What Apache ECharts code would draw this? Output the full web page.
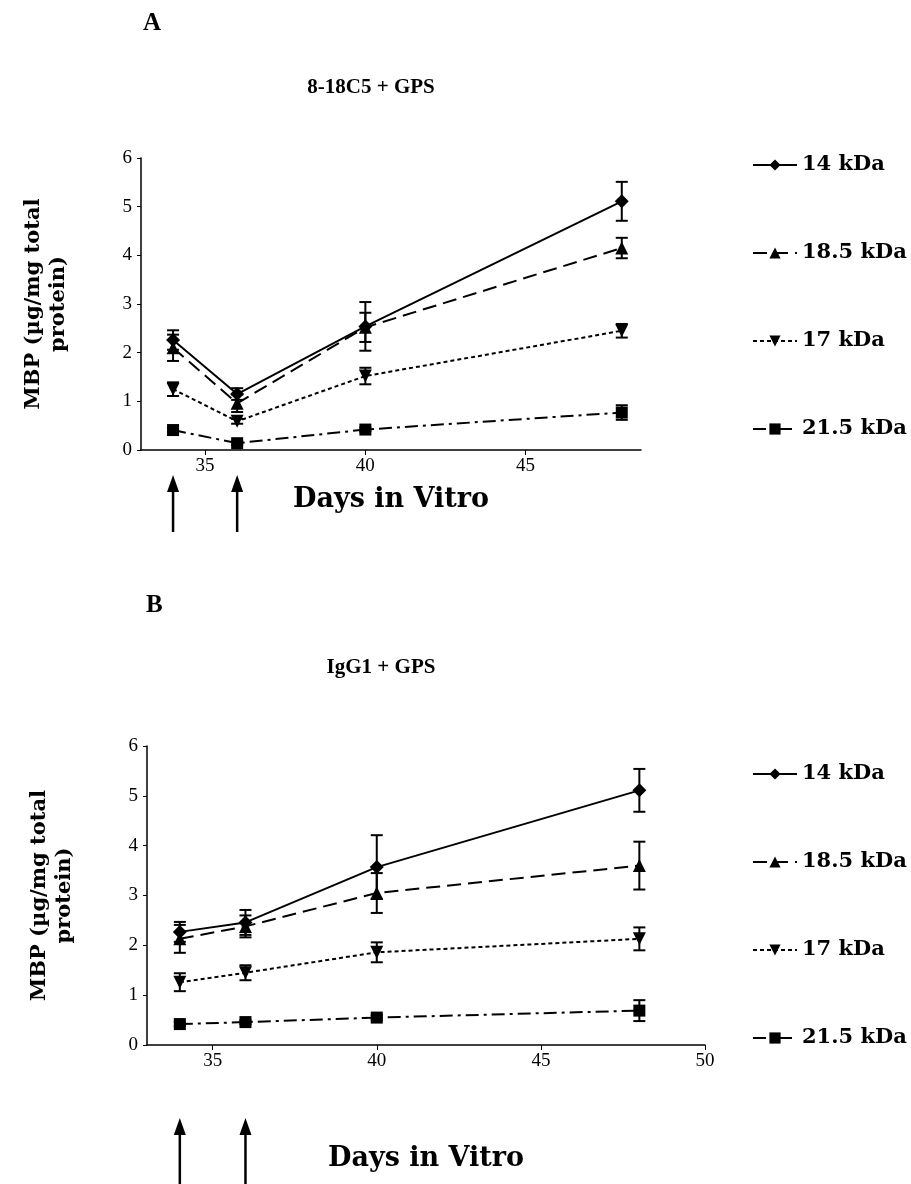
<!DOCTYPE html>
<html><head><meta charset="utf-8">
<script src="https://cdn.jsdelivr.net/npm/echarts@6/dist/echarts.min.js"></script>
<style>html,body{margin:0;padding:0;background:#fff}#c{width:911px;height:1184px}</style>
</head><body><div id="c"></div>
<script>
// ---- data ----
const days = [34, 36, 40, 48];
const seriesNames = ['14 kDa', '18.5 kDa', '17 kDa', '21.5 kDa'];
const arrowDays = [34, 36];
const xTicksA = [35, 40, 45];
const xTicksB = [35, 40, 45, 50];

// Panel A: 8-18C5 + GPS
const a14 = [2.26, 1.15, 2.54, 5.11];
const a14Err = [0.20, 0.12, 0.50, 0.40];
const a185 = [2.10, 0.96, 2.52, 4.15];
const a185Err = [0.27, 0.18, 0.30, 0.21];
const a17 = [1.25, 0.59, 1.52, 2.45];
const a17Err = [0.14, 0.05, 0.17, 0.14];
const a215 = [0.41, 0.14, 0.42, 0.77];
const a215Err = [0.04, 0.04, 0.04, 0.15];

// Panel B: IgG1 + GPS
const b14 = [2.27, 2.46, 3.57, 5.11];
const b14Err = [0.20, 0.25, 0.64, 0.43];
const b185 = [2.13, 2.38, 3.05, 3.60];
const b185Err = [0.28, 0.22, 0.40, 0.48];
const b17 = [1.26, 1.45, 1.86, 2.13];
const b17Err = [0.18, 0.15, 0.20, 0.23];
const b215 = [0.42, 0.46, 0.55, 0.69];
const b215Err = [0.04, 0.04, 0.05, 0.21];

const SERIF = '"Liberation Serif", "DejaVu Serif", serif';
const WIDE = '"DejaVu Serif", "Liberation Serif", serif';
const styles = [
  {symbol: 'diamond', size: 14, rot: 0, type: 'solid'},
  {symbol: 'triangle', size: 13, rot: 0, type: [14, 7]},
  {symbol: 'triangle', size: 13, rot: 180, type: [4, 3]},
  {symbol: 'rect', size: 12, rot: 0, type: [13, 5, 3, 5]}
];

function lineSeries(name, vals, idx, styleIdx) {
  const s = styles[styleIdx];
  return {
    name: name, type: 'line', xAxisIndex: idx, yAxisIndex: idx,
    data: days.map((d, i) => [d, vals[i]]),
    symbol: s.symbol, symbolSize: s.size, symbolRotate: s.rot,
    itemStyle: {color: '#000'},
    lineStyle: {color: '#000', width: 2, type: s.type},
    z: 3, animation: false
  };
}
function errSeries(vals, errs, idx) {
  return {
    type: 'custom', xAxisIndex: idx, yAxisIndex: idx, silent: true,
    data: days.map((d, i) => [d, vals[i], errs[i]]),
    renderItem: function (params, api) {
      const x = api.value(0), y = api.value(1), e = api.value(2);
      const top = api.coord([x, y + e]);
      const bot = api.coord([x, y - e]);
      const w = 6;
      const st = {stroke: '#000', lineWidth: 2};
      return {type: 'group', children: [
        {type: 'line', shape: {x1: top[0], y1: top[1], x2: bot[0], y2: bot[1]}, style: st},
        {type: 'line', shape: {x1: top[0] - w, y1: top[1], x2: top[0] + w, y2: top[1]}, style: st},
        {type: 'line', shape: {x1: bot[0] - w, y1: bot[1], x2: bot[0] + w, y2: bot[1]}, style: st}
      ]};
    },
    z: 2, animation: false
  };
}
function arrowSeries(idx, off1, off2) {
  return {
    type: 'custom', xAxisIndex: idx, yAxisIndex: idx, silent: true, clip: false,
    data: arrowDays.map(d => [d, 0]),
    renderItem: function (params, api) {
      const p = api.coord([api.value(0), 0]);
      const y1 = p[1] + off1, y2 = p[1] + off2;
      return {type: 'group', children: [
        {type: 'line', shape: {x1: p[0], y1: y1 + 10, x2: p[0], y2: y2}, style: {stroke: '#000', lineWidth: 2.5}},
        {type: 'polygon', shape: {points: [[p[0], y1], [p[0] - 6, y1 + 17], [p[0] + 6, y1 + 17]]}, style: {fill: '#000'}}
      ]};
    },
    animation: false
  };
}

const grids = [
  {left: 141, top: 158, width: 500, height: 292},
  {left: 147, top: 746, width: 558, height: 299}
];
function xAxis(idx, max, ticks, gap) {
  return {
    type: 'value', gridIndex: idx, min: 33, max: max,
    name: 'Days in Vitro', nameLocation: 'middle', nameGap: gap,
    nameTextStyle: {fontFamily: WIDE, fontWeight: 'bold', fontSize: 27, color: '#000'},
    axisLine: {onZero: false, lineStyle: {color: '#000', width: 1.5}},
    axisTick: {show: true, customValues: ticks, length: 5, inside: false, lineStyle: {color: '#000'}},
    axisLabel: {customValues: ticks, fontFamily: SERIF, fontSize: 19, color: '#000', margin: 7},
    splitLine: {show: false}
  };
}
function yAxis(idx) {
  return {
    type: 'value', gridIndex: idx, min: 0, max: 6, interval: 1,
    name: 'MBP (\u00b5g/mg total\nprotein)', nameLocation: 'middle', nameGap: 70, nameRotate: 90,
    nameTextStyle: {fontFamily: WIDE, fontWeight: 'bold', fontSize: 21, color: '#000', lineHeight: 25},
    axisLine: {show: true, lineStyle: {color: '#000', width: 1.5}},
    axisTick: {show: true, length: 4, lineStyle: {color: '#000'}},
    axisLabel: {fontFamily: SERIF, fontSize: 19, color: '#000', margin: 9, formatter: v => String(v)},
    splitLine: {show: false}
  };
}
function legend(top) {
  return {
    orient: 'vertical', left: 747, top: top, itemGap: 64,
    itemWidth: 44, itemHeight: 14,
    data: seriesNames.map(n => ({name: n})),
    textStyle: {fontFamily: WIDE, fontWeight: 'bold', fontSize: 21, color: '#000', lineHeight: 24},
    selectedMode: false
  };
}

const series = [];
const A = [[a14, a14Err], [a185, a185Err], [a17, a17Err], [a215, a215Err]];
const B = [[b14, b14Err], [b185, b185Err], [b17, b17Err], [b215, b215Err]];
A.forEach(v => series.push(errSeries(v[0], v[1], 0)));
A.forEach((v, k) => series.push(lineSeries(seriesNames[k], v[0], 0, k)));
B.forEach(v => series.push(errSeries(v[0], v[1], 1)));
B.forEach((v, k) => series.push(lineSeries(seriesNames[k], v[0], 1, k)));
series.push(arrowSeries(0, 25, 82));
series.push(arrowSeries(1, 73, 139));

const chart = echarts.init(document.getElementById('c'), null, {renderer: 'canvas'});
chart.setOption({
  backgroundColor: '#fff',
  animation: false,
  title: [
    {text: 'A', left: 138, top: 6, textStyle: {fontFamily: SERIF, fontWeight: 'bold', fontSize: 25, color: '#000'}},
    {text: '8-18C5 + GPS', left: 366, top: 72, textAlign: 'center', textStyle: {fontFamily: SERIF, fontWeight: 'bold', fontSize: 21, color: '#000'}},
    {text: 'B', left: 141, top: 588, textStyle: {fontFamily: SERIF, fontWeight: 'bold', fontSize: 25, color: '#000'}},
    {text: 'IgG1 + GPS', left: 376, top: 652, textAlign: 'center', textStyle: {fontFamily: SERIF, fontWeight: 'bold', fontSize: 21, color: '#000'}}
  ],
  legend: [legend(148), legend(757)],
  grid: grids,
  xAxis: [xAxis(0, 48.6, xTicksA, 36), xAxis(1, 50, xTicksB, 100)],
  yAxis: [yAxis(0), yAxis(1)],
  series: series
});
</script></body></html>
